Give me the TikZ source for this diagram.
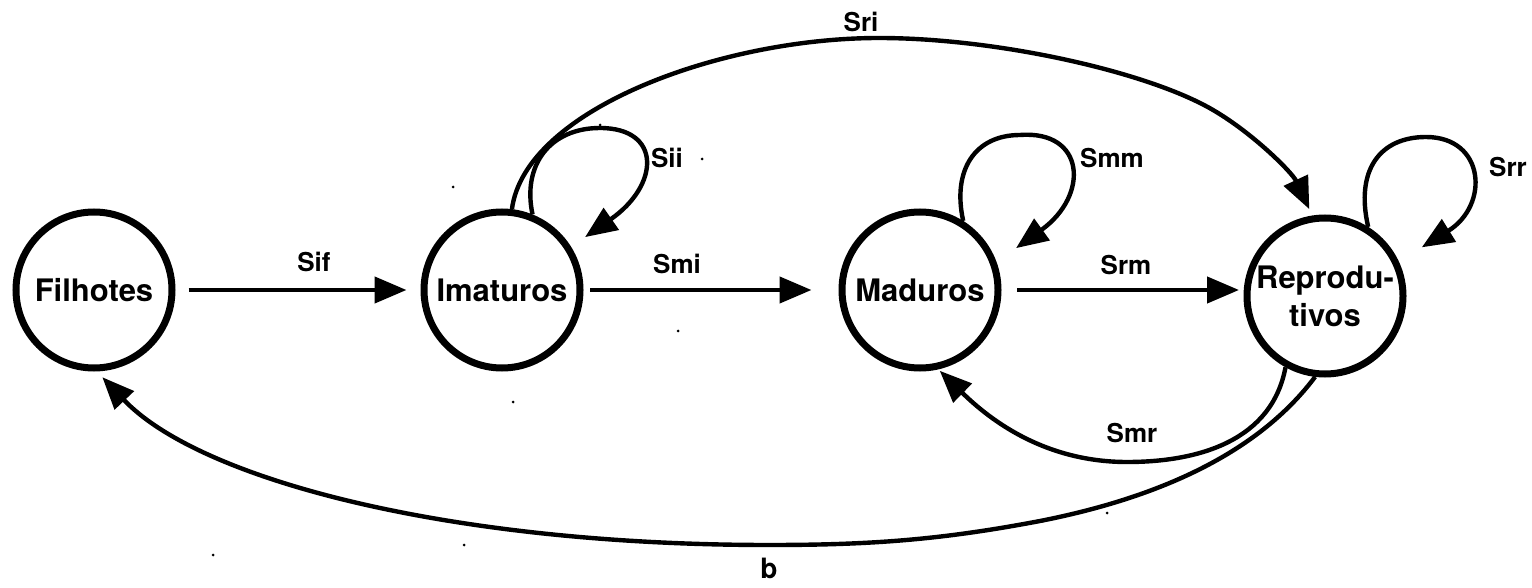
\documentclass[tikz,border=0pt]{standalone}
\usepackage{fontspec}
\setmainfont{TeX Gyre Heros}
\usetikzlibrary{arrows.meta,calc}
\begin{document}
\begin{tikzpicture}[x=0.5pt,y=-0.5pt,
  state/.style={circle,draw,line width=3.5pt,minimum size=78pt,inner sep=0pt,
    font=\fontsize{15.5}{19}\selectfont\bfseries,align=center},
  conn/.style={line width=2.2pt,-{Triangle[length=16pt,width=13pt]}},
  lab/.style={font=\fontsize{13}{15}\selectfont\bfseries,inner sep=0pt},
  speck/.style={fill,circle,inner sep=0pt,minimum size=1.5pt}]
\useasboundingbox (0,0) rectangle (1532,588);

\node[state] (F) at (94,290) {Filhotes};
\node[state] (I) at (502,290) {Imaturos};
\node[state] (M) at (920,290) {Maduros};
\node[state] (R) at (1325,296) {Reprodu-\\tivos};

% straight transitions
\draw[conn,shorten <=6.5pt,shorten >=7pt] (F.east) -- (I.west);
\draw[conn,shorten <=3.25pt,shorten >=13.5pt] (I.east) -- (M.west);
\draw[conn,shorten <=7.75pt,shorten >=2.25pt] (M.east) -- (M.east -| R.west);

% self loops
\draw[conn,shorten >=8.5pt] (I.68) .. controls (522,165) and (550,128) .. (600,128)
  .. controls (662,128) and (660,185) .. (I.32);
\draw[conn,shorten >=12pt] (M.58) .. controls (952,170) and (975,135) .. (1020,135)
  .. controls (1085,130) and (1090,195) .. (M.20);
\draw[conn,shorten >=13.5pt] (R.58) .. controls (1355,170) and (1380,137) .. (1426,137)
  .. controls (1485,137) and (1490,205) .. (R.25);

% Sri
\draw[conn,shorten >=3.5pt] (I.83) .. controls (525,110) and (720,38) .. (879,38)
  .. controls (990,38) and (1130,68) .. (1200,103)
  .. controls (1245,125) and (1292,172) .. (R.99);

% Smr
\draw[conn,shorten >=1pt] (R.241) .. controls (1272,440) and (1200,462) .. (1127,462)
  .. controls (1040,462) and (985,415) .. (M.283);

% b
\draw[conn,shorten >=4pt] (R.263) .. controls (1261,449) and (1167,496) .. (1040,521)
  .. controls (940,540) and (870,545) .. (769,545)
  .. controls (450,545) and (200,480) .. (F.272);

% labels
\node[lab] (lsif) at (314,262) {Sif};
\node[lab] (lsmi) at (677,264) {Smi};
\node[lab] (lsrm) at (1126,265) {Srm};
\node[lab] (lsii) at (667,158) {Sii};
\node[lab] (lsmm) at (1112,158) {Smm};
\node[lab] (lsrr) at (1508,167) {Srr};
\node[lab] (lsri) at (861,22) {Sri};
\node[lab] (lsmr) at (1132,433) {Smr};
\node[lab,font=\fontsize{14}{16}\selectfont\bfseries] (lb) at (769,568) {b};

% stray specks
\node[speck] (d1) at (453,187) {};
\node[speck] (d2) at (600,125) {};
\node[speck] (d3) at (702,159) {};
\node[speck] (d4) at (678,331) {};
\node[speck] (d5) at (513,402) {};
\node[speck] (d6) at (213,555) {};
\node[speck] (d7) at (464,545) {};
\node[speck] (d8) at (1107,513) {};
\end{tikzpicture}
\end{document}
